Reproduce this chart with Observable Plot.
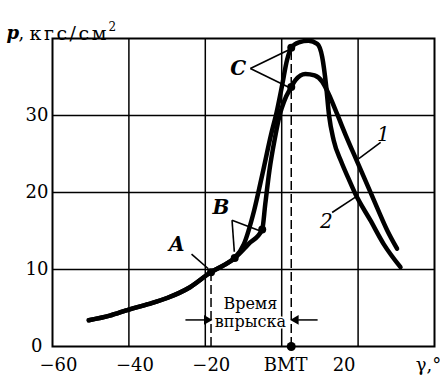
<!DOCTYPE html>
<html><head><meta charset="utf-8">
<script src="https://cdn.jsdelivr.net/npm/d3@7"></script>
<script src="https://cdn.jsdelivr.net/npm/@observablehq/plot@0.6"></script>
<style>
body{margin:0;background:#fff;}
#chart{width:440px;height:379px;}
</style>
</head><body><div id="chart"></div>
<script>
// Common compression line (up to the lower point B)
const compGamma = [-50.5, -45, -40, -35, -30, -24, -18.5, -15, -12.3];
const compP     = [3.4, 4.0, 4.8, 5.5, 6.3, 7.7, 9.65, 10.6, 11.5];

// Curve 1 (lower peak)
const curve1Gamma = [-12.3, -8.7, -5.1, -4.3, -3.2, -1.8, -0.4, 0.6, 2.5, 3.6, 6.2, 8.6, 10.6, 12.3, 14.5, 16.8, 19.5, 22.4, 25.0, 27.6, 30.2];
const curve1P     = [11.5, 13.3, 15.2, 18.5, 22.9, 27.0, 30.3, 31.8, 33.7, 34.6, 35.4, 35.2, 34.4, 32.8, 30.2, 27.4, 24.3, 21.0, 18.0, 15.1, 12.7];

// Curve 2 (higher peak)
const curve2Gamma = [-12.3, -9.9, -7.2, -5.0, -2.8, -1.3, 0.1, 1.4, 2.5, 4.5, 7.0, 9.3, 10.6, 11.6, 12.4, 13.6, 15.6, 17.5, 19.3, 23.2, 26.7, 31.1];
const curve2P     = [11.5, 13.3, 17.7, 22.5, 27.5, 30.5, 33.9, 37.2, 38.8, 39.5, 39.7, 39.3, 37.6, 34.0, 30.0, 26.8, 24.0, 21.8, 19.8, 16.4, 13.3, 10.3];

// Marked points A, B (two), C (two)
const pointNames = ["A", "B1", "B2", "C1", "C2"];
const pointGamma = [-18.5, -12.3, -5.1, 2.5, 2.5];
const pointP     = [9.65, 11.5, 15.2, 38.8, 33.7];

// Axis ticks
const xTicks = [-60, -40, -20, 0, 20];
const xTickLabels = ["\u221260", "\u221240", "\u221220", "ВМТ", "20"];
const xEndLabel = "γ,°";
const yTicks = [0, 10, 20, 30];
const gridGamma = [-40, -20, 0, 20];
const gridP = [10, 20, 30];

// Annotation labels
const letterText  = ["A", "B", "C"];
const letterGamma = [-27.5, -15.9, -11.4];
const letterP     = [13.2, 18.0, 36.1];
const numText  = ["1", "2"];
const numGamma = [26.6, 11.7];
const numP     = [27.5, 16.2];
// Leader lines: from, to
const leadFromG = [-23.6, -13.0, -13.0, -8.2, -8.2, 25.9, 13.2];
const leadFromP = [12.0, 16.4, 16.4, 36.1, 36.1, 26.5, 17.4];
const leadToG   = [-19.2, -12.4, -5.6, 2.2, 2.1, 20.2, 19.3];
const leadToP   = [10.1, 12.3, 15.0, 38.6, 33.6, 24.4, 19.4];

// Injection interval
const injStart = -18.5, injEnd = 2.5;
const injLabel = "Время\nвпрыска";

const FONT = "DejaVu Serif";
const pts = (gs, ps) => gs.map((g, i) => ({g, p: ps[i]}));
const comp = pts(compGamma, compP);
const line1 = comp.concat(pts(curve1Gamma, curve1P).slice(1));
const line2 = comp.concat(pts(curve2Gamma, curve2P).slice(1));
const points = pointGamma.map((g, i) => ({name: pointNames[i], g, p: pointP[i]}));
const letters = letterText.map((t, i) => ({t, g: letterGamma[i], p: letterP[i]}));
const nums = numText.map((t, i) => ({t, g: numGamma[i], p: numP[i]}));
const leads = leadFromG.map((g, i) => ({g1: g, p1: leadFromP[i], g2: leadToG[i], p2: leadToP[i]}));
const dashes = [{g: injStart, p: pointP[0]}, {g: injEnd, p: pointP[3]}];
const xLabel = new Map(xTicks.map((t, i) => [t, xTickLabels[i]]));

const arrowP = 3.45;
const arrows = [{g1: -25.2, g2: -20.2, tip: -19.6, rot: 90}, {g1: 9.4, g2: 4.3, tip: 3.7, rot: -90}];

const xAxis = (ticks, dx) => Plot.axisX({ticks, tickFormat: d => xLabel.has(d) ? xLabel.get(d) : xEndLabel, tickSize: 0, tickPadding: 12, fontFamily: FONT, fontSize: 18, dx});
const yAxis = (ticks, dx) => Plot.axisY({ticks, tickFormat: d => String(d), tickSize: 0, tickPadding: 4, fontFamily: FONT, fontSize: 18, dx});

const plot = Plot.plot({
  width: 440, height: 379,
  marginLeft: 52, marginRight: 6, marginTop: 38, marginBottom: 33,
  x: {domain: [-60, 40]},
  y: {domain: [0, 40]},
  style: {fontFamily: FONT, fontSize: "18px", background: "white", color: "black"},
  marks: [
    Plot.gridX(gridGamma, {stroke: "black", strokeOpacity: 1, strokeWidth: 1.5}),
    Plot.gridY(gridP, {stroke: "black", strokeOpacity: 1, strokeWidth: 1.5}),
    Plot.ruleX(dashes, {x: "g", y1: 0, y2: "p", stroke: "black", strokeWidth: 1.5, strokeDasharray: "9,4"}),
    Plot.text([injLabel], {x: -8.2, y: 4.4, text: d => d, fontFamily: FONT, fontSize: 16, lineHeight: 1.1, fill: "black", stroke: "white", strokeWidth: 3}),
    Plot.link(arrows, {x1: "g1", x2: "g2", y1: arrowP, y2: arrowP, stroke: "black", strokeWidth: 1.5}),
    Plot.dot(arrows, {x: "tip", y: arrowP, symbol: "triangle", r: 3.6, fill: "black", rotate: "rot"}),
    Plot.frame({stroke: "black", strokeWidth: 2}),
    Plot.line(line1, {x: "g", y: "p", curve: "monotone-x", stroke: "black", strokeWidth: 4.5}),
    Plot.line(line2, {x: "g", y: "p", curve: "monotone-x", stroke: "black", strokeWidth: 4.5}),
    Plot.link(leads, {x1: "g1", y1: "p1", x2: "g2", y2: "p2", stroke: "black", strokeWidth: 1.6}),
    Plot.dot(points, {x: "g", y: "p", r: 4, fill: "black"}),
    Plot.dot([injEnd], {x: d => d, y: 0, r: 4.5, fill: "black"}),
    Plot.text(letters, {x: "g", y: "p", text: "t", fontFamily: FONT, fontSize: 20, fontStyle: "italic", fontWeight: "bold"}),
    Plot.text(nums, {x: "g", y: "p", text: "t", fontFamily: FONT, fontSize: 20, fontStyle: "italic"}),
    xAxis([-60, -40, -20], 6),
    xAxis([0], 4),
    xAxis([20], -14),
    xAxis([40], -6),
    yAxis([10, 20, 30], 0),
    yAxis([0], -6),
    Plot.text(["p"], {frameAnchor: "top-left", dx: -46, dy: -12.5, textAnchor: "start", fontFamily: FONT, fontSize: 18, fontStyle: "italic", fontWeight: "bold"}),
    Plot.text([","], {frameAnchor: "top-left", dx: -34, dy: -12.5, textAnchor: "start", fontFamily: FONT, fontSize: 18}),
    Plot.text(["кгс/см"], {frameAnchor: "top-left", dx: -23, dy: -12.5, textAnchor: "start", fontFamily: FONT, fontSize: 19}),
    Plot.text(["2"], {frameAnchor: "top-left", dx: 56, dy: -16, textAnchor: "start", fontFamily: FONT, fontSize: 12})
  ]
});
plot.querySelectorAll("text").forEach(t => {
  if (t.textContent === "кгс/см") { t.setAttribute("textLength", "77"); t.setAttribute("lengthAdjust", "spacing"); }
});
document.getElementById("chart").appendChild(plot);
</script>
</body></html>
